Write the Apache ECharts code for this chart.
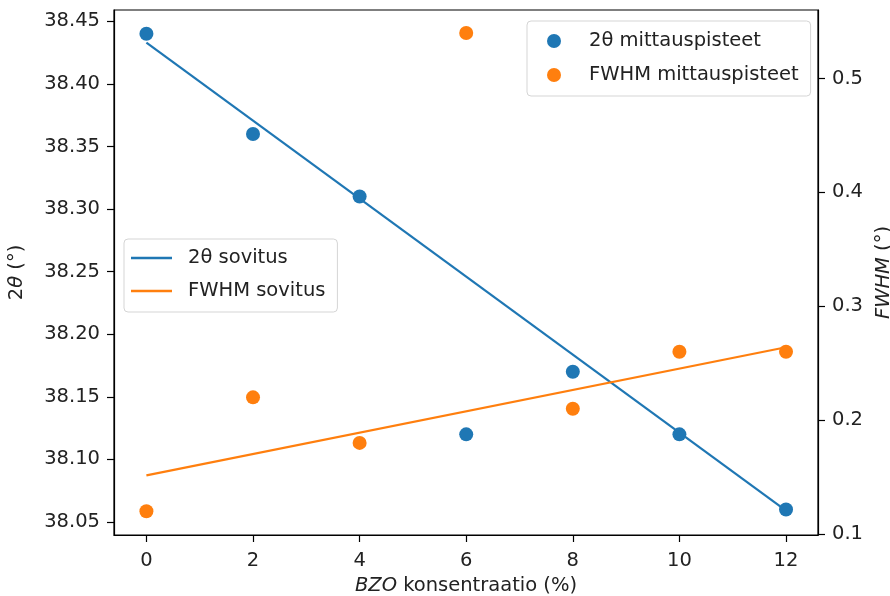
<!DOCTYPE html>
<html>
<head>
<meta charset="utf-8">
<script src="https://cdn.jsdelivr.net/npm/echarts@6/dist/echarts.min.js"></script>
<style>
  html, body { margin: 0; padding: 0; background: #fff; }
  #chart { width: 890px; height: 596px; }
</style>
</head>
<body>
<div id="chart"></div>
<script>
// BZO concentration (%) of the measured samples
const concentration = [0, 2, 4, 6, 8, 10, 12];
// Measured 2θ peak positions (°)
const twoTheta = [38.44, 38.36, 38.31, 38.12, 38.17, 38.12, 38.06];
// Measured FWHM values (°)
const fwhm = [0.12, 0.22, 0.18, 0.54, 0.21, 0.26, 0.26];
// Linear fits, evaluated at the ends of the concentration range
const fitX = [0, 12];
const twoThetaFit = [38.433, 38.059];
const fwhmFit = [0.1515, 0.264];
// Tick positions
const xTicks = [0, 2, 4, 6, 8, 10, 12];
const leftTicks = [38.05, 38.10, 38.15, 38.20, 38.25, 38.30, 38.35, 38.40, 38.45];
const rightTicks = [0.1, 0.2, 0.3, 0.4, 0.5];

const BLUE = '#1f77b4';
const ORANGE = '#ff7f0e';
const FONT = 'DejaVu Sans';
const FS = 19.5;

const zip = (xs, ys) => xs.map((x, i) => [x, ys[i]]);

const chart = echarts.init(document.getElementById('chart'), null, { renderer: 'canvas' });

const tickStyle = { show: true, length: 7, lineStyle: { color: '#000', width: 1.2 } };
const labelStyle = { color: '#222', fontFamily: FONT, fontSize: FS };
const nameStyle = {
  color: '#222', fontFamily: FONT, fontSize: FS,
  rich: { i: { fontStyle: 'italic', fontFamily: FONT, fontSize: FS, color: '#222' } }
};

chart.setOption({
  animation: false,
  backgroundColor: '#fff',
  grid: {
    left: 114, top: 10, width: 704, height: 525,
    outerBoundsMode: 'none', containLabel: false,
    show: true, borderColor: '#000', borderWidth: 1.2, backgroundColor: 'transparent'
  },
  xAxis: {
    type: 'value', min: -0.608, max: 12.6,
    name: '{i|BZO} konsentraatio (%)',
    nameLocation: 'middle', nameGap: 40,
    nameTextStyle: nameStyle,
    axisLine: { show: true, onZero: false, lineStyle: { color: '#000', width: 1.2 } },
    axisTick: Object.assign({ customValues: xTicks }, tickStyle),
    axisLabel: Object.assign({ customValues: xTicks, margin: 16, formatter: v => String(v) }, labelStyle),
    splitLine: { show: false }
  },
  yAxis: [
    {
      type: 'value', position: 'left', min: 38.0396, max: 38.459,
      name: '2{i|θ} (°)',
      nameLocation: 'middle', nameGap: 87, nameRotate: 90,
      nameTextStyle: nameStyle,
      axisLine: { show: true, onZero: false, lineStyle: { color: '#000', width: 1.2 } },
      axisTick: Object.assign({ customValues: leftTicks }, tickStyle),
      axisLabel: Object.assign({ customValues: leftTicks, margin: 14, formatter: v => v.toFixed(2) }, labelStyle),
      splitLine: { show: false }
    },
    {
      type: 'value', position: 'right', min: 0.0991, max: 0.5602,
      name: '{i|FWHM} (°)',
      nameLocation: 'middle', nameGap: 55, nameRotate: 90,
      nameTextStyle: nameStyle,
      axisLine: { show: true, onZero: false, lineStyle: { color: '#000', width: 1.2 } },
      axisTick: Object.assign({ customValues: rightTicks }, tickStyle),
      axisLabel: Object.assign({ customValues: rightTicks, margin: 14, formatter: v => v.toFixed(1) }, labelStyle),
      splitLine: { show: false }
    }
  ],
  legend: [
    {
      data: ['2θ mittauspisteet', 'FWHM mittauspisteet'],
      orient: 'vertical', left: 527, top: 21,
      padding: [10, 12, 11, 20],
      itemWidth: 52, itemHeight: 14, itemGap: 14,
      icon: 'circle',
      backgroundColor: 'rgba(255,255,255,0.8)',
      borderColor: '#d5d5d5', borderWidth: 1, borderRadius: 4,
      textStyle: { color: '#222', fontFamily: FONT, fontSize: FS, lineHeight: 18, padding: [0, 0, 0, 4] }
    },
    {
      data: [
        { name: '2θ sovitus', icon: 'rect' },
        { name: 'FWHM sovitus', icon: 'rect' }
      ],
      orient: 'vertical', left: 124, top: 239,
      padding: [9, 12, 11, 7],
      itemWidth: 41, itemHeight: 2.4, itemGap: 13,
      backgroundColor: 'rgba(255,255,255,0.8)',
      borderColor: '#d5d5d5', borderWidth: 1, borderRadius: 4,
      textStyle: { color: '#222', fontFamily: FONT, fontSize: FS, lineHeight: 18, padding: [0, 0, 0, 11] }
    }
  ],
  series: [
    {
      name: '2θ sovitus', type: 'line', yAxisIndex: 0,
      data: zip(fitX, twoThetaFit),
      showSymbol: false, symbol: 'none',
      lineStyle: { color: BLUE, width: 2.2 }, itemStyle: { color: BLUE },
      z: 2
    },
    {
      name: '2θ mittauspisteet', type: 'scatter', yAxisIndex: 0,
      data: zip(concentration, twoTheta),
      symbol: 'circle', symbolSize: 14,
      itemStyle: { color: BLUE, opacity: 1 },
      z: 3
    },
    {
      name: 'FWHM sovitus', type: 'line', yAxisIndex: 1,
      data: zip(fitX, fwhmFit),
      showSymbol: false, symbol: 'none',
      lineStyle: { color: ORANGE, width: 2.2 }, itemStyle: { color: ORANGE },
      z: 4
    },
    {
      name: 'FWHM mittauspisteet', type: 'scatter', yAxisIndex: 1,
      data: zip(concentration, fwhm),
      symbol: 'circle', symbolSize: 14,
      itemStyle: { color: ORANGE, opacity: 1 },
      z: 5
    }
  ]
});
</script>
</body>
</html>
